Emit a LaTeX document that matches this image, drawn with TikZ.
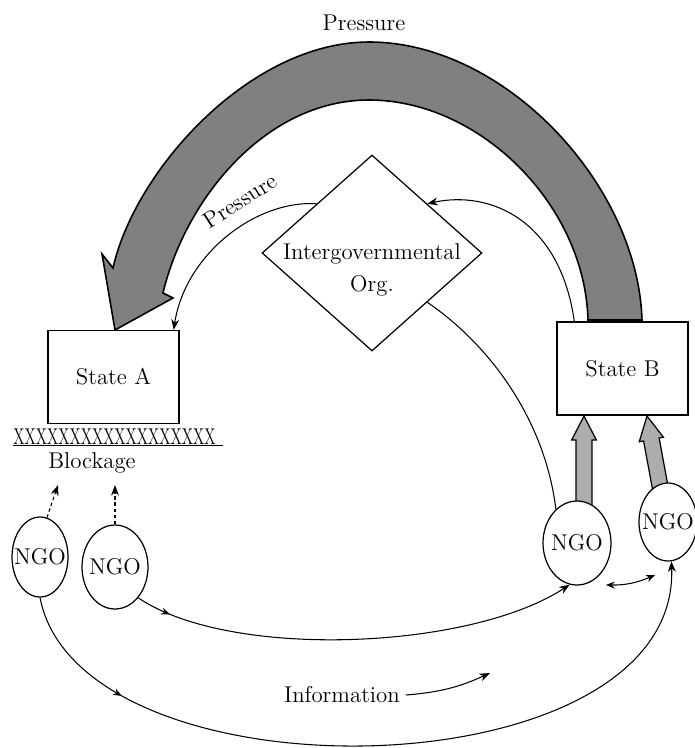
\documentclass[tikz,border=0pt]{standalone}
\usetikzlibrary{shapes.geometric,arrows.meta,calc,decorations.markings}
\newcommand\fatarr[2]{%
  \path ($(#2)!13.6pt!(#1)$) coordinate (fhb);
  \filldraw[fatarrow] ($(#1)!4.5pt!90:(#2)$) -- ($(fhb)!4.5pt!90:(#2)$) -- ($(fhb)!7pt!90:(#2)$) -- (#2) -- ($(fhb)!7pt!-90:(#2)$) -- ($(fhb)!4.5pt!-90:(#2)$) -- ($(#1)!4.5pt!-90:(#2)$) -- cycle;}
\begin{document}
\begin{tikzpicture}[x=0.02cm,y=-0.02cm,
  txt/.style={font=\fontsize{13}{15}\selectfont},
  box/.style={draw, line width=0.8pt, minimum width=2.62cm, minimum height=1.86cm, txt},
  ngo/.style={draw, ellipse, line width=0.7pt, fill=white, inner xsep=-4pt, inner ysep=0pt, txt},
  thin/.style={line width=0.6pt},
  tip/.style={-{Stealth[length=6pt,width=4.5pt]}},
  bigarrow/.style={draw, line width=0.9pt, fill=black!50},
  fatarrow/.style={draw, line width=0.7pt, fill=black!32},
  midarrow/.style={postaction={decorate}, decoration={markings, mark=at position #1 with {\arrow{Stealth[length=5pt,width=4pt]}}}}
]
\useasboundingbox (0,0) rectangle (695,748);

% big pressure arrow
\node[txt] (ptop) at (364,23) {Pressure};
\filldraw[bigarrow] (642,320) .. controls (638,185) and (505,42) .. (369,42)
  .. controls (250,42) and (135,170) .. (113,268) -- (102,254) -- (115,330) -- (173,298) -- (163,293)
  .. controls (185,200) and (265,100) .. (369,100)
  .. controls (480,100) and (585,205) .. (588,320) -- cycle;

% boxes
\node[box] (stateA) at (113.5,377) {State A};
\node[box] (stateB) at (622.5,368.5) {State B};

% intergovernmental organisation
\node[draw, diamond, line width=0.7pt, minimum width=4.4cm, minimum height=3.92cm, inner sep=0pt, fill=white] (igo) at (372,253) {};
\node[align=center, font=\fontsize{13}{18}\selectfont] (igot) at (372,270) {Intergovernmental\\Org.};
\node[txt, rotate=33] (plabel) at (240,201) {Pressure};

% blockage
\node[txt, inner sep=0pt] (xs) at (114.5,437) {\scalebox{0.67}[1]{XXXXXXXXXXXXXXXXXX}};
\draw[thin] (xs.south west) -- ($(xs.south east)+(7,0)$);
\node[txt] (block) at (92,463) {Blockage};

% fat arrows NGO -> State B
\coordinate (fa1) at (584,512); \coordinate (fb1) at (584,416);
\coordinate (fa2) at (662,497); \coordinate (fb2) at (647,416);
\fatarr{fa1}{fb1}
\fatarr{fa2}{fb2}

% NGOs
\node[ngo, minimum width=1.12cm, minimum height=1.6cm] (ngoA1) at (40,557) {NGO};
\node[ngo, minimum width=1.32cm, minimum height=1.68cm] (ngoA2) at (115,567) {NGO};
\node[ngo, minimum width=1.36cm, minimum height=1.68cm] (ngoB1) at (577,543) {NGO};
\node[ngo, minimum width=1.16cm, minimum height=1.56cm] (ngoB2) at (668,522) {NGO};

% thin connectors
\draw[thin, tip] (igo.north west) .. controls (255,200) and (185,255) .. ($(stateA.north east)+(-6,0)$);
\draw[thin, tip] ($(stateB.north west)+(18,0)$) .. controls (560,220) and (490,190) .. (igo.north east);
\draw[thin] (igo.south east) .. controls (490,345) and (545,420) .. (ngoB1.122);

\coordinate (bl1) at (58,485);
\coordinate (bl2) at (115,485);
\draw[thin, tip, dash pattern=on 2pt off 1.5pt] (ngoA1.80) -- (bl1);
\draw[thin, tip, dash pattern=on 2pt off 1.5pt] (ngoA2.north) -- (bl2);

\draw[thin, tip, midarrow=0.08] (ngoA2.-53) .. controls (230,660) and (470,650) .. (ngoB1.-100);
\draw[thin, tip, midarrow=0.17] (ngoA1.south) .. controls (80,805) and (680,795) .. (ngoB2.-85);

\coordinate (dA) at (606,585);
\coordinate (dB) at (655,575);
\draw[thin, {Stealth[length=5pt,width=4pt]}-{Stealth[length=5pt,width=4pt]}] (dA) to[bend right=12] (dB);

\node[txt] (info) at (342,695) {Information};
\coordinate (ie) at (490,673);
\draw[thin, tip] (info.east) to[bend right=10] (ie);
\end{tikzpicture}
\end{document}
